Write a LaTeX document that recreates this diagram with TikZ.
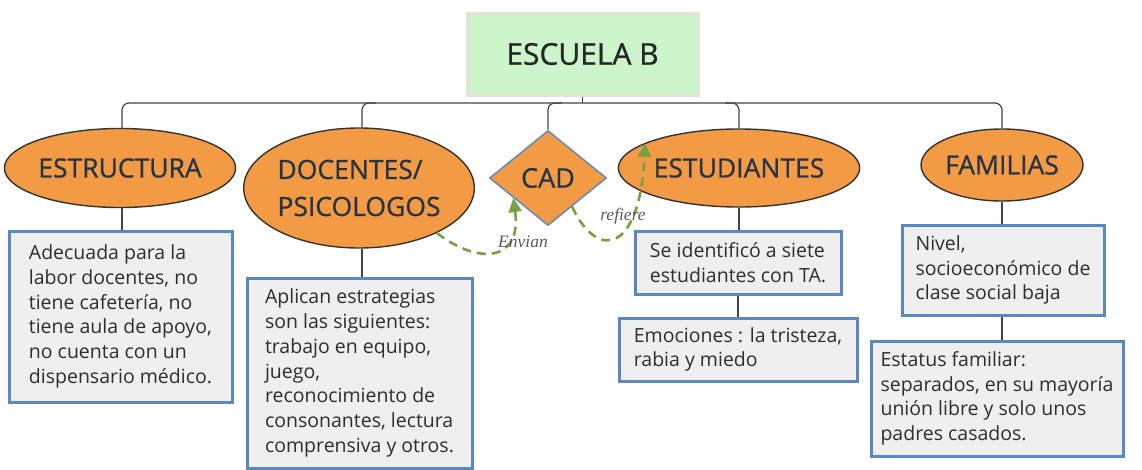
\documentclass[tikz,border=0pt]{standalone}
\usepackage{fontspec}
\setmainfont{Open Sans}
\newfontfamily\headfont[FakeBold=0.8]{Open Sans}
\newfontfamily\labelfont{Liberation Serif}
\usetikzlibrary{shapes.geometric,arrows.meta,calc}
\definecolor{titlefill}{HTML}{CCF5CC}
\definecolor{titleline}{HTML}{E6E2D6}
\definecolor{orangefill}{HTML}{F39A45}
\definecolor{navytext}{HTML}{263445}
\definecolor{boxline}{HTML}{5A88C0}
\definecolor{boxfill}{HTML}{EFEFEF}
\definecolor{boxtext}{HTML}{2E2E2E}
\definecolor{flowgreen}{HTML}{76A140}
\definecolor{cadline}{HTML}{6A8BB5}
\definecolor{treeline}{HTML}{444444}
\begin{document}
\begin{tikzpicture}[x=1pt,y=-1pt,
  titlebox/.style={rectangle, draw=titleline, line width=3pt, fill=titlefill, inner sep=0pt,
    font=\headfont\fontsize{30}{34}\selectfont, text=black!85},
  topic/.style={ellipse, draw=black!80, line width=1.4pt, fill=orangefill, inner sep=0pt,
    font=\headfont\fontsize{26.5}{37}\selectfont, text=navytext, align=left},
  cadshape/.style={diamond, draw=cadline, line width=1.6pt, fill=orangefill, inner sep=0pt,
    font=\headfont\fontsize{27}{30}\selectfont, text=navytext},
  infobox/.style={rectangle, draw=boxline, line width=3pt, fill=boxfill, inner sep=0pt,
    font=\fontsize{19.5}{24.7}\selectfont, text=boxtext, align=left},
  tree/.style={draw=treeline, line width=1.2pt},
  flow/.style={draw=flowgreen, line width=2.6pt, dash pattern=on 9pt off 6pt,
    -{Triangle[length=14pt,width=13pt]}},
  flowlabel/.style={font=\labelfont\itshape\fontsize{17.5}{20}\selectfont, text=black!65, inner sep=1pt}
]
\useasboundingbox (0,0) rectangle (1142,469);

% title
\node[titlebox, minimum width=231pt, minimum height=82pt] (title) at (582.5,54) {ESCUELA B};
\coordinate (bus) at (0,103);

% topics
\node[topic, minimum width=218pt, minimum height=79pt] (estr) at (120,168) {ESTRUCTURA};
\node[topic, minimum width=226pt, minimum height=120pt] (doc) at (359,188) {DOCENTES/\\PSICOLOGOS};
\node[cadshape, minimum width=117pt, minimum height=95pt] (cad) at (548,178) {CAD};
\node[topic, minimum width=212pt, minimum height=78pt] (est) at (739,168) {ESTUDIANTES};
\node[topic, minimum width=162pt, minimum height=72pt] (fam) at (1002,165) {FAMILIAS};

% boxes
\node[infobox, minimum width=223pt, minimum height=171pt] (boxe) at (120.5,316.5)
  {Adecuada para la\\labor docentes, no\\tiene cafetería, no\\tiene aula de apoyo,\\no cuenta con un\\dispensario médico.};
\node[infobox, minimum width=225pt, minimum height=190pt] (boxd) at (359.5,373)
  {Aplican estrategias\\son las siguientes:\\trabajo en equipo,\\juego,\\reconocimiento de\\consonantes, lectura\\comprensiva y otros.};
\node[infobox, minimum width=206pt, minimum height=63pt] (boxs1) at (738,262.5)
  {Se identificó a siete\\estudiantes con TA.};
\node[infobox, minimum width=238pt, minimum height=63pt] (boxs2) at (738,349.5)
  {Emociones : la tristeza,\\rabia y miedo};
\node[infobox, minimum width=202pt, minimum height=90pt] (boxf1) at (1003,270)
  {Nivel,\\socioeconómico de\\clase social baja};
\node[infobox, minimum width=252pt, minimum height=115pt] (boxf2) at (997,398.5)
  {Estatus familiar:\\separados, en su mayoría\\unión libre y solo unos\\padres casados.};

% tree connectors
\draw[tree] (title.south) -- (title.south |- bus);
\draw[tree, rounded corners=7pt] ([xshift=2pt]estr.north) -- ([xshift=2pt]estr.north |- bus) -- (fam.north |- bus) -- (fam.north);
\draw[tree, rounded corners=7pt] ([xshift=3pt]doc.north) -- ([xshift=3pt]doc.north |- bus) -- ++(14,0);
\draw[tree, rounded corners=7pt] (cad.north) -- (cad.north |- bus) -- ++(14,0);
\draw[tree, rounded corners=7pt] (est.north) -- (est.north |- bus) -- ++(-14,0);

\draw[tree] ([xshift=2pt]estr.south) -- ([xshift=2pt]estr.south |- boxe.north);
\draw[tree] ([xshift=3pt]doc.south) -- ([xshift=3pt]doc.south |- boxd.north);
\draw[tree] (est.south) -- (est.south |- boxs1.north);
\draw[tree] (boxs1.south) -- (boxs2.north);
\draw[tree] (fam.south) -- (fam.south |- boxf1.north);
\draw[tree] (fam.south |- boxf1.south) -- (fam.south |- boxf2.north);

% flow arrows
\draw[flow] (doc.-30) .. controls (478,265) and (522,262) .. (cad.-150);
\draw[flow] (cad.-50) .. controls (598,262) and (640,252) .. (est.165);
\node[flowlabel] (envian) at (523,242) {Envian};
\node[flowlabel] (refiere) at (623,216) {refiere};
\end{tikzpicture}
\end{document}
